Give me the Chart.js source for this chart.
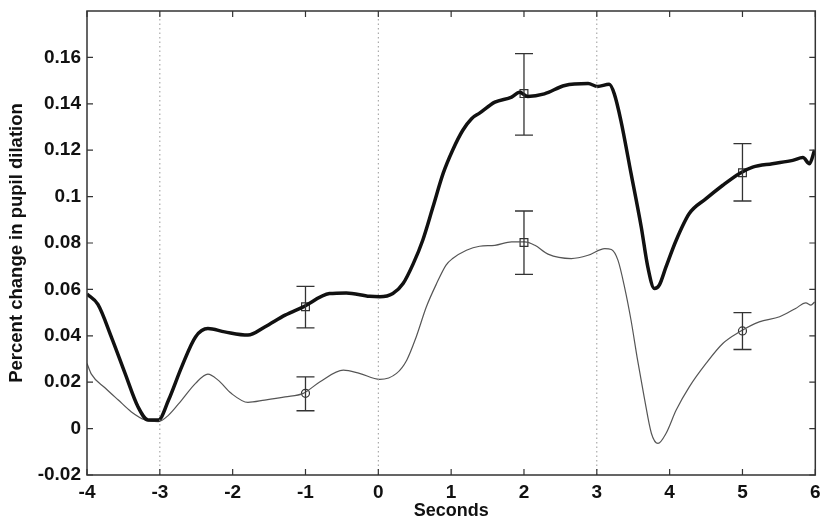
<!DOCTYPE html>
<html>
<head>
<meta charset="utf-8">
<script src="https://cdn.jsdelivr.net/npm/chart.js@4.4.1/dist/chart.umd.min.js"></script>
<style>
  html, body { margin:0; padding:0; background:#fff; }
  #wrap { width:822px; height:522px; position:relative; }
</style>
</head>
<body>
<div id="wrap"><canvas id="chart"></canvas></div>
<script>
// ═══ DATA ═══
const thickT = [-4.0,-3.85,-3.66,-3.48,-3.30,-3.16,-3.02,-2.88,-2.70,-2.51,-2.34,-2.11,-1.79,-1.56,-1.28,-1.03,-0.67,-0.44,-0.12,0.02,0.20,0.34,0.48,0.61,0.75,0.89,1.02,1.16,1.28,1.39,1.60,1.83,1.94,2.05,2.28,2.56,2.88,3.01,3.17,3.24,3.33,3.47,3.61,3.70,3.79,3.86,3.95,4.09,4.27,4.50,4.73,4.96,5.14,5.41,5.69,5.83,5.92,5.99];
const thickY = [0.058,0.0535,0.039,0.024,0.0094,0.0037,0.0037,0.0123,0.0266,0.0395,0.0431,0.0417,0.0403,0.0438,0.0489,0.0525,0.0582,0.0585,0.057,0.0568,0.0582,0.0625,0.0711,0.0812,0.0955,0.110,0.120,0.1286,0.1336,0.136,0.1407,0.1429,0.145,0.1432,0.1443,0.1479,0.1487,0.1475,0.1484,0.1443,0.1329,0.110,0.0869,0.0697,0.0604,0.062,0.0697,0.0812,0.0927,0.0991,0.1049,0.110,0.1127,0.1142,0.1156,0.1168,0.1142,0.120];

const thinT = [-4.0,-3.94,-3.75,-3.57,-3.39,-3.20,-3.02,-2.88,-2.70,-2.51,-2.34,-2.20,-2.02,-1.79,-1.56,-1.28,-1.03,-0.80,-0.48,-0.26,0.02,0.25,0.39,0.52,0.66,0.80,0.93,1.02,1.21,1.39,1.60,1.83,2.01,2.15,2.33,2.65,2.88,3.11,3.20,3.29,3.38,3.47,3.56,3.65,3.75,3.84,3.95,4.09,4.27,4.50,4.73,4.96,5.23,5.51,5.73,5.87,5.94,5.99];
const thinY = [0.0281,0.0235,0.0175,0.0123,0.0072,0.0037,0.003,0.0058,0.0123,0.0195,0.0235,0.0209,0.0152,0.0113,0.0123,0.0137,0.0152,0.0202,0.0252,0.0238,0.0212,0.0238,0.0295,0.0395,0.0525,0.0625,0.0705,0.0733,0.0769,0.0786,0.079,0.0805,0.0805,0.079,0.0752,0.0733,0.0747,0.0776,0.0772,0.0726,0.0611,0.0467,0.0295,0.0137,-0.0021,-0.0064,-0.0021,0.008,0.018,0.0281,0.0367,0.0417,0.046,0.0482,0.0518,0.0542,0.0532,0.0546];

// error bars at these times
const errT = [-1, 2, 5];
const thickMean = [0.0525, 0.1444, 0.1103];
const thickLo   = [0.0434, 0.1265, 0.0981];
const thickHi   = [0.0613, 0.1616, 0.1228];
const thinMean  = [0.0152, 0.0802, 0.0421];
const thinLo    = [0.0077, 0.0665, 0.0341];
const thinHi    = [0.0223, 0.0938, 0.0500];

// event markers (dotted verticals)
const eventT = [-3, 0, 3];

const xTicks = [-4,-3,-2,-1,0,1,2,3,4,5,6];
const yMin = -0.02, yMax = 0.18, yStep = 0.02, yLabelMax = 0.16;

// ═══ HELPERS ═══
const pts = (xs, ys) => xs.map((x, i) => ({ x, y: ys[i] }));
const eventData = [];
eventT.forEach(t => { eventData.push({x:t,y:yMin},{x:t,y:yMax},{x:t,y:null}); });

const FONT = "'Liberation Sans', Arial, Helvetica, sans-serif";

// error bars drawn through the scales
const errorBars = {
  id: 'errorBars',
  afterDatasetsDraw(chart) {
    const { ctx, scales: { x, y } } = chart;
    const cap = 9;
    ctx.save();
    ctx.strokeStyle = '#333';
    ctx.lineWidth = 1.3;
    const draw = (lo, hi) => errT.forEach((t, i) => {
      const px = x.getPixelForValue(t), p1 = y.getPixelForValue(lo[i]), p2 = y.getPixelForValue(hi[i]);
      ctx.beginPath();
      ctx.moveTo(px, p1); ctx.lineTo(px, p2);
      ctx.moveTo(px - cap, p1); ctx.lineTo(px + cap, p1);
      ctx.moveTo(px - cap, p2); ctx.lineTo(px + cap, p2);
      ctx.stroke();
    });
    draw(thickLo, thickHi);
    draw(thinLo, thinHi);
    ctx.restore();
  }
};

// matlab-style box with inward ticks
const boxTicks = {
  id: 'boxTicks',
  afterDraw(chart) {
    const { ctx, chartArea: a, scales: { x, y } } = chart;
    const len = 6;
    ctx.save();
    ctx.strokeStyle = '#333';
    ctx.lineWidth = 1.5;
    ctx.strokeRect(a.left, a.top, a.right - a.left, a.bottom - a.top);
    ctx.lineWidth = 1.2;
    ctx.beginPath();
    x.ticks.forEach(t => {
      const px = x.getPixelForValue(t.value);
      ctx.moveTo(px, a.bottom); ctx.lineTo(px, a.bottom - len);
      ctx.moveTo(px, a.top); ctx.lineTo(px, a.top + len);
    });
    y.ticks.forEach(t => {
      const py = y.getPixelForValue(t.value);
      ctx.moveTo(a.left, py); ctx.lineTo(a.left + len, py);
      ctx.moveTo(a.right, py); ctx.lineTo(a.right - len, py);
    });
    ctx.stroke();
    ctx.restore();
  }
};

// ═══ CHART ═══
new Chart(document.getElementById('chart'), {
  type: 'line',
  data: {
    datasets: [
      { label:'events', data:eventData, borderColor:'#999', borderWidth:1, borderDash:[1.5,3], pointRadius:0, spanGaps:false, tension:0 },
      { label:'thick', data:pts(thickT, thickY), borderColor:'#111', borderWidth:3.5, pointRadius:0, cubicInterpolationMode:'monotone' },
      { label:'thin', data:pts(thinT, thinY), borderColor:'#555', borderWidth:1.2, pointRadius:0, cubicInterpolationMode:'monotone' },
      { label:'thick mean', data:pts(errT, thickMean), showLine:false, pointStyle:'rect', pointRadius:5.5, pointBorderColor:'#333', pointBackgroundColor:'rgba(0,0,0,0)', pointBorderWidth:1.2 },
      { label:'thin mean', data:pts(errT, thinMean), showLine:false, pointStyle:['circle','rect','circle'], pointRadius:[4,5.5,4], pointBorderColor:'#333', pointBackgroundColor:'rgba(0,0,0,0)', pointBorderWidth:1.2 }
    ]
  },
  options: {
    responsive: true,
    maintainAspectRatio: false,
    animation: false,
    layout: { padding: { left: 0, right: 6, top: 11, bottom: 0 } },
    plugins: { legend: { display:false }, tooltip: { enabled:false } },
    scales: {
      x: {
        type: 'linear', min: xTicks[0], max: xTicks[xTicks.length - 1],
        afterBuildTicks: s => { s.ticks = xTicks.map(v => ({ value: v })); },
        afterFit: s => { s.height = 47; s.paddingLeft = 0; s.paddingRight = 0; },
        grid: { display:false, drawTicks:false }, border: { display:false },
        ticks: { color:'#111', padding:6, font:{ family:FONT, size:19, weight:'bold' }, callback: v => String(v) },
        title: { display:true, text:'Seconds', color:'#111', padding:{ top:0, bottom:0 }, font:{ family:FONT, size:18, weight:'bold' } }
      },
      y: {
        type: 'linear', min: yMin, max: yMax,
        afterBuildTicks: s => {
          const t = [];
          for (let v = yMin; v <= yLabelMax + 1e-9; v += yStep) t.push({ value: +v.toFixed(2) });
          s.ticks = t;
        },
        afterFit: s => { s.width = 87; s.paddingTop = 0; s.paddingBottom = 0; },
        grid: { display:false, drawTicks:false }, border: { display:false },
        ticks: { color:'#111', padding:6, font:{ family:FONT, size:19, weight:'bold' }, callback: v => String(+v.toFixed(2)) },
        title: { display:true, text:'Percent change in pupil dilation', color:'#111', padding:{ top:6, bottom:0 }, font:{ family:FONT, size:18.5, weight:'bold' } }
      }
    }
  },
  plugins: [errorBars, boxTicks]
});
</script>
</body>
</html>
